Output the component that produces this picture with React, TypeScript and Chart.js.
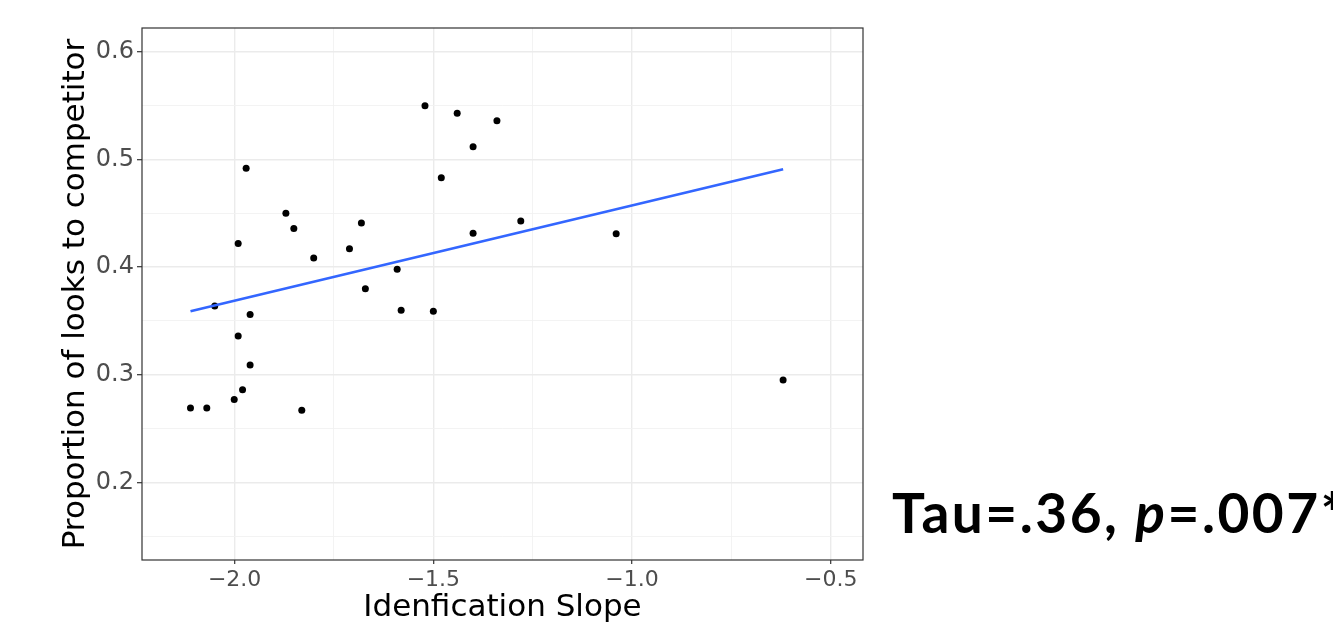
import React, { useEffect, useRef } from "react";
import { Chart, registerables } from "chart.js";

Chart.register(...registerables);

// ---- data ----
const slopes = [
  -1.521, -1.44, -1.34, -1.4, -1.971, -1.48, -1.871, -1.851, -1.991, -1.681,
  -1.711, -1.28, -1.4, -1.04, -1.801, -1.591, -1.671, -2.05, -1.961, -1.581,
  -1.5, -1.991, -1.961, -1.98, -2.001, -2.111, -2.07, -1.831, -0.62,
];
const proportions = [
  0.55, 0.543, 0.536, 0.512, 0.492, 0.483, 0.45, 0.436, 0.422, 0.441,
  0.417, 0.443, 0.4315, 0.431, 0.4085, 0.398, 0.38, 0.364, 0.356, 0.36,
  0.359, 0.336, 0.309, 0.286, 0.277, 0.269, 0.269, 0.267, 0.295,
];
const fitX = [-2.111, -0.62];
const fitY = [0.359, 0.491];

const xMajorTicks = [-2.0, -1.5, -1.0, -0.5];
const xMinorTicks = [-1.75, -1.25, -0.75];
const yMajorTicks = [0.2, 0.3, 0.4, 0.5, 0.6];
const yMinorTicks = [0.15, 0.25, 0.35, 0.45, 0.55];
const xRange = [-2.233, -0.419];
const yRange = [0.1278, 0.6223];

const xTitle = "Idenfication Slope";
const yTitle = "Proportion of looks to competitor";
const statParts: [string, boolean][] = [
  ["Tau=.36, ", false],
  ["p", true],
  ["=.007*", false],
];

const isIn = (list: number[], v: number) => list.some((m) => Math.abs(m - v) < 1e-9);
const fmtX = (v: number) => (v < 0 ? "\u2212" : "") + Math.abs(v).toFixed(1);
const fmtY = (v: number) => v.toFixed(1);

const panelBorder = {
  id: "panelBorder",
  afterDraw(chart: any) {
    const { ctx, chartArea: a } = chart;
    ctx.save();
    ctx.strokeStyle = "#333333";
    ctx.lineWidth = 1.2;
    ctx.strokeRect(a.left, a.top, a.right - a.left, a.bottom - a.top);
    ctx.restore();
  },
};

const statText = {
  id: "statText",
  afterDraw(chart: any) {
    const { ctx } = chart;
    ctx.save();
    ctx.fillStyle = "#000000";
    ctx.textBaseline = "alphabetic";
    ctx.textAlign = "left";
    try {
      (ctx as any).letterSpacing = "2.5px";
    } catch (e) {}
    let x = 892;
    for (const [t, it] of statParts) {
      ctx.font = `${it ? "italic " : ""}bold 55px Lato`;
      ctx.fillText(t, x, 533);
      x += ctx.measureText(t).width;
    }
    ctx.restore();
  },
};

export default function App() {
  const ref = useRef<HTMLCanvasElement | null>(null);

  useEffect(() => {
    if (!ref.current) return;
    const points = slopes.map((x, i) => ({ x, y: proportions[i] }));
    const fit = fitX.map((x, i) => ({ x, y: fitY[i] }));
    const xTicks = [...xMajorTicks, ...xMinorTicks].sort((a, b) => a - b);
    const yTicks = [...yMajorTicks, ...yMinorTicks].sort((a, b) => a - b);

    const chart = new Chart(ref.current, {
      type: "scatter",
      data: {
        datasets: [
          {
            type: "line",
            data: fit,
            borderColor: "#3366FF",
            borderWidth: 2.7,
            pointRadius: 0,
            fill: false,
            tension: 0,
          } as any,
          {
            type: "scatter",
            data: points,
            backgroundColor: "#000000",
            borderWidth: 0,
            pointRadius: 3.5,
          },
        ],
      },
      options: {
        animation: false,
        responsive: false,
        devicePixelRatio: 1,
        layout: { padding: { left: 0, top: 28, right: 470, bottom: 0 } },
        plugins: { legend: { display: false }, tooltip: { enabled: false } },
        scales: {
          x: {
            type: "linear",
            min: xRange[0],
            max: xRange[1],
            afterBuildTicks: (s: any) => {
              s.ticks = xTicks.map((value) => ({ value }));
            },
            afterFit: (s: any) => {
              s.height = 67;
            },
            border: { display: false },
            grid: {
              color: (c: any) => (isIn(xMajorTicks, c.tick?.value) ? "#EBEBEB" : "#F2F2F2"),
              lineWidth: (c: any) => (isIn(xMajorTicks, c.tick?.value) ? 1.4 : 0.9),
              tickColor: (c: any) => (isIn(xMajorTicks, c.tick?.value) ? "#333333" : "rgba(0,0,0,0)"),
              tickWidth: 1.2,
              tickLength: 4,
            },
            ticks: {
              autoSkip: false,
              maxRotation: 0,
              padding: 3,
              color: "#4D4D4D",
              font: { family: "DejaVu Sans", size: 22 },
              callback: (v: any) => (isIn(xMajorTicks, Number(v)) ? fmtX(Number(v)) : ""),
            },
            title: {
              display: true,
              text: xTitle,
              color: "#000000",
              font: { family: "DejaVu Sans", size: 31 },
              padding: { top: 0, bottom: 0 },
            },
          },
          y: {
            type: "linear",
            min: yRange[0],
            max: yRange[1],
            afterBuildTicks: (s: any) => {
              s.ticks = yTicks.map((value) => ({ value }));
            },
            afterFit: (s: any) => {
              s.width = 142;
            },
            border: { display: false },
            grid: {
              color: (c: any) => (isIn(yMajorTicks, c.tick?.value) ? "#EBEBEB" : "#F2F2F2"),
              lineWidth: (c: any) => (isIn(yMajorTicks, c.tick?.value) ? 1.4 : 0.9),
              tickColor: (c: any) => (isIn(yMajorTicks, c.tick?.value) ? "#333333" : "rgba(0,0,0,0)"),
              tickWidth: 1.2,
              tickLength: 5,
            },
            ticks: {
              autoSkip: false,
              padding: 3,
              color: "#4D4D4D",
              font: { family: "DejaVu Sans", size: 24 },
              callback: (v: any) => (isIn(yMajorTicks, Number(v)) ? fmtY(Number(v)) : ""),
            },
            title: {
              display: true,
              text: yTitle,
              color: "#000000",
              font: { family: "DejaVu Sans", size: 31 },
              padding: { top: 57, bottom: 0 },
            },
          },
        },
      },
      plugins: [panelBorder, statText],
    });
    return () => chart.destroy();
  }, []);

  return (
    <div style={{ position: "fixed", left: 0, top: 0, width: 1333, height: 627, background: "#ffffff" }}>
      <canvas ref={ref} width={1333} height={627} style={{ width: 1333, height: 627, display: "block" }} />
    </div>
  );
}
